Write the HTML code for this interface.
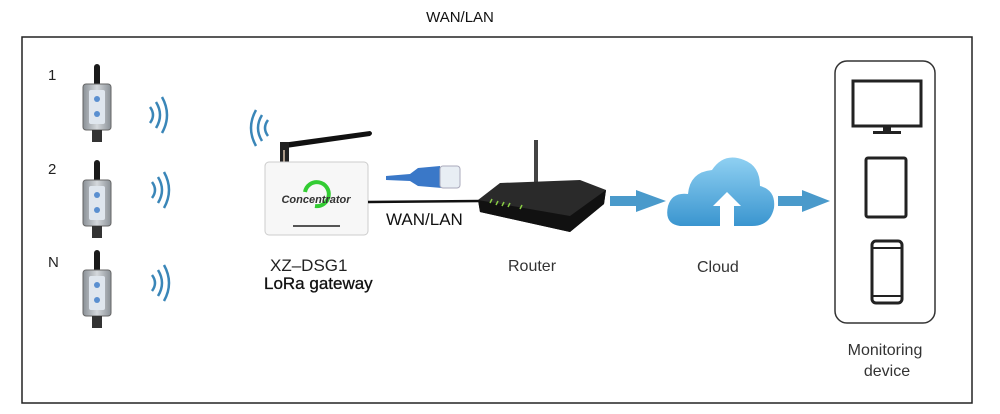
<!DOCTYPE html>
<html><head><meta charset="utf-8"><style>
html,body{margin:0;padding:0;background:#fff;}
svg{display:block;font-family:"Liberation Sans",sans-serif;}
</style></head><body>
<svg width="1000" height="414" viewBox="0 0 1000 414" xmlns="http://www.w3.org/2000/svg">
<defs>
<linearGradient id="cl" x1="0" y1="0" x2="0" y2="1"><stop offset="0" stop-color="#8fd0f2"/><stop offset="1" stop-color="#3a95cf"/></linearGradient>
<linearGradient id="sg" x1="0" y1="0" x2="1" y2="0"><stop offset="0" stop-color="#8a9096"/><stop offset="0.5" stop-color="#d4d8dc"/><stop offset="1" stop-color="#8a9096"/></linearGradient>
<g id="sensor">
<rect x="-3" y="0" width="6" height="24" rx="3" fill="#1a1a1a"/>
<rect x="-14" y="20" width="28" height="46" rx="3" fill="url(#sg)" stroke="#666"/>
<rect x="-8" y="26" width="16" height="34" rx="2" fill="#dfe6ee"/>
<circle cx="0" cy="35" r="3" fill="#5a8fd0"/><circle cx="0" cy="50" r="3" fill="#5a8fd0"/>
<rect x="-5" y="66" width="10" height="12" fill="#333"/>
</g>
<g id="waves" fill="none" stroke="#3a86b8" stroke-width="2.5">
<path d="M0,-8 Q6,0 0,8"/><path d="M6,-13 Q14,0 6,13"/><path d="M12,-18 Q22,0 12,18"/>
</g>
</defs>
<text x="460" y="22" font-size="15" text-anchor="middle" fill="#111">WAN/LAN</text>
<rect x="22" y="37" width="950" height="366" fill="none" stroke="#222" stroke-width="1.5"/>
<g font-size="15" fill="#222"><text x="48" y="80">1</text><text x="48" y="174">2</text><text x="48" y="267">N</text></g>
<use href="#sensor" x="97" y="64"/><use href="#sensor" x="97" y="160"/><use href="#sensor" x="97" y="250"/>
<use href="#waves" x="150" y="115"/><use href="#waves" x="152" y="190"/><use href="#waves" x="152" y="283"/>
<g transform="translate(268,128) scale(-1,1)"><use href="#waves"/></g>
<!-- gateway -->
<path d="M282,143 L370,131 Q374,133 370,136 L286,148Z" fill="#111"/>
<rect x="280" y="142" width="9" height="20" fill="#222"/>
<line x1="284" y1="150" x2="284" y2="164" stroke="#a98" stroke-width="2"/>
<rect x="265" y="162" width="103" height="73" rx="4" fill="#f7f7f7" stroke="#ccc"/>
<path d="M305,192 a12,12 0 1 1 10,14" fill="none" stroke="#3c3" stroke-width="4"/>
<text x="316" y="203" font-size="11" font-style="italic" font-weight="bold" text-anchor="middle" fill="#333">Concentrator</text>
<line x1="293" y1="226" x2="340" y2="226" stroke="#555" stroke-width="2"/>
<line x1="368" y1="202" x2="480" y2="201" stroke="#111" stroke-width="2.5"/>
<!-- ethernet -->
<path d="M386,176 L410,174 L418,168 L440,166 L442,188 L418,186 L410,181 L386,180Z" fill="#3a78c8"/>
<rect x="440" y="166" width="20" height="22" rx="3" fill="#e8eef4" stroke="#aab"/>
<text x="386" y="225" font-size="17" fill="#111">WAN/LAN</text>
<text x="270" y="271" font-size="17" fill="#222">XZ–DSG1</text>
<text x="264" y="289" font-size="17" fill="#111" stroke="#111" stroke-width="0.3">LoRa gateway</text>
<!-- router -->
<rect x="534" y="140" width="4" height="50" fill="#444"/>
<path d="M478,200 L500,183 L580,180 L606,190 L604,204 L570,232 L480,212Z" fill="#2a2a2a"/>
<path d="M478,200 L570,216 L606,190 L604,204 L570,232 L480,212Z" fill="#111"/>
<g stroke="#8c4" stroke-width="1.5"><line x1="490" y1="203" x2="492" y2="199"/><line x1="496" y1="205" x2="498" y2="201"/><line x1="502" y1="206" x2="504" y2="202"/><line x1="508" y1="207" x2="510" y2="203"/><line x1="520" y1="209" x2="522" y2="205"/></g>
<text x="508" y="271" font-size="16" fill="#333">Router</text>
<!-- arrows -->
<path d="M610,196 L636,196 L636,190 L666,201 L636,212 L636,206 L610,206Z" fill="#4a9acb"/>
<path d="M778,196 L802,196 L802,190 L830,201 L802,212 L802,206 L778,206Z" fill="#4a9acb"/>
<!-- cloud -->
<path d="M680,226 Q664,224 668,206 Q672,192 688,194 Q690,172 712,170 Q724,152 744,160 Q760,166 760,186 Q776,190 774,208 Q770,226 752,226Z" fill="url(#cl)"/>
<path d="M720,226 L720,206 L713,206 L727,192 L741,206 L734,206 L734,226Z" fill="#fff"/>
<text x="697" y="272" font-size="16" fill="#333">Cloud</text>
<!-- monitoring -->
<rect x="835" y="61" width="100" height="262" rx="12" fill="none" stroke="#333" stroke-width="1.5"/>
<rect x="853" y="81" width="68" height="45" fill="none" stroke="#222" stroke-width="3"/>
<rect x="883" y="126" width="8" height="5" fill="#222"/><rect x="873" y="131" width="28" height="3" fill="#222"/>
<rect x="866" y="158" width="40" height="59" rx="2" fill="none" stroke="#222" stroke-width="3"/>
<rect x="872" y="241" width="30" height="62" rx="4" fill="none" stroke="#222" stroke-width="3"/>
<line x1="872" y1="248" x2="902" y2="248" stroke="#222" stroke-width="2"/><line x1="872" y1="296" x2="902" y2="296" stroke="#222" stroke-width="2"/>
<text x="885" y="355" font-size="16" text-anchor="middle" fill="#333">Monitoring</text>
<text x="887" y="376" font-size="16" text-anchor="middle" fill="#333">device</text>
</svg>
</body></html>
